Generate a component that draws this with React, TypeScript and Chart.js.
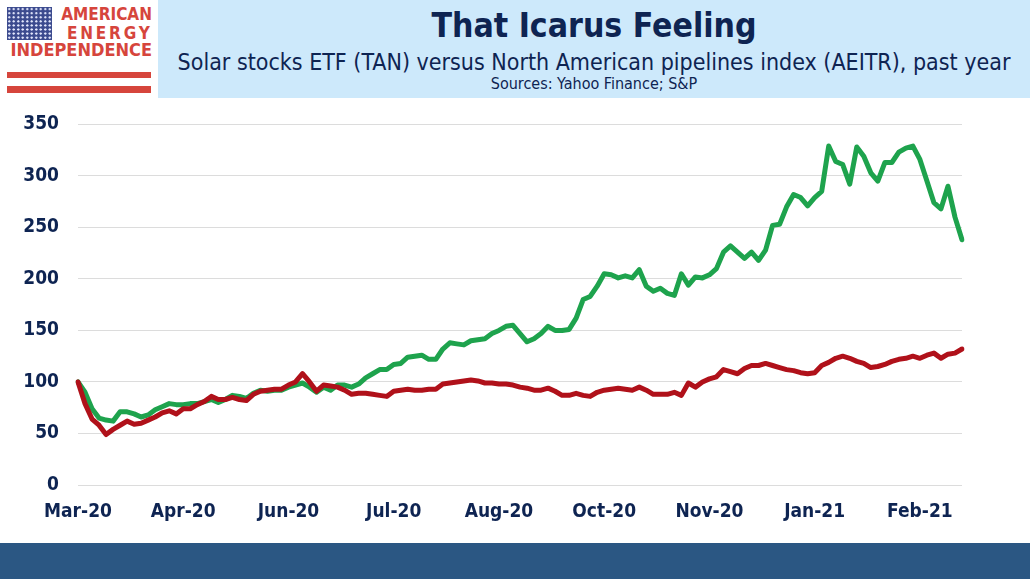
import React, { useEffect, useRef } from "react";
import { Chart, registerables } from "chart.js";

Chart.register(...registerables);

// Solar stocks ETF (TAN), indexed to 100
const TAN = [
  100, 90, 74, 65, 63, 62, 71, 71, 69, 66, 68, 73, 76, 79, 78, 78, 79, 79, 81, 83,
  80, 83, 87, 86, 84, 89, 92, 91, 92, 92, 95, 97, 99, 95, 90, 95, 92, 97, 97, 95,
  98, 104, 108, 112, 112, 117, 118, 124, 125, 126, 122, 122, 132, 138, 137, 136, 140, 141, 142, 147,
  150, 154, 155, 147, 139, 142, 147, 154, 150, 150, 151, 162, 180, 183, 193, 205, 204, 201, 203, 201,
  209, 193, 188, 191, 186, 184, 205, 194, 202, 201, 204, 210, 226, 232, 226, 220, 226, 218, 228, 252,
  253, 270, 282, 279, 271, 279, 285, 329, 314, 311, 292, 328, 319, 303, 295, 313, 313, 323, 327, 329,
  316, 295, 274, 268, 290, 260, 238,
];

// North American pipelines index (AEITR), indexed to 100
const AEITR = [
  100, 79, 64, 58, 49, 54, 58, 62, 59, 60, 63, 66, 70, 72, 69, 74, 74, 78, 81, 86,
  83, 83, 85, 83, 82, 88, 91, 92, 93, 93, 97, 100, 108, 100, 91, 97, 96, 95, 92, 88,
  89, 89, 88, 87, 86, 91, 92, 93, 92, 92, 93, 93, 98, 99, 100, 101, 102, 101, 99, 99,
  98, 98, 97, 95, 94, 92, 92, 94, 91, 87, 87, 89, 87, 86, 90, 92, 93, 94, 93, 92,
  95, 92, 88, 88, 88, 90, 87, 99, 95, 100, 103, 105, 112, 110, 108, 113, 116, 116, 118, 116,
  114, 112, 111, 109, 108, 109, 116, 119, 123, 125, 123, 120, 118, 114, 115, 117, 120, 122, 123, 125,
  123, 126, 128, 123, 127, 128, 132,
];

const MONTH_TICKS = ["Mar-20", "Apr-20", "Jun-20", "Jul-20", "Aug-20", "Oct-20", "Nov-20", "Jan-21", "Feb-21"];
const TICK_EVERY = 15;

const Y_MIN = 0;
const Y_MAX = 350;
const Y_STEP = 50;

const NAVY = "#0e2452";
const FONT = "'DejaVu Sans Condensed', 'DejaVu Sans', sans-serif";

function Logo() {
  const red = "#d6453c";
  return (
    <div style={{ position: "absolute", left: 0, top: 0, width: 158, height: 100, background: "#fff" }}>
      <div
        style={{
          position: "absolute",
          left: 7,
          top: 7,
          width: 45,
          height: 33,
          backgroundColor: "#3b4a8e",
          backgroundImage: "radial-gradient(circle, #e8ecff 0.9px, transparent 1.3px)",
          backgroundSize: "4.5px 4.1px",
        }}
      />
      <div
        style={{
          position: "absolute",
          left: 60,
          top: 4,
          width: 92,
          textAlign: "right",
          color: red,
          fontFamily: FONT,
          fontWeight: "bold",
          fontSize: 17,
          lineHeight: "21px",
        }}
      >
        AMERICAN
      </div>
      <div
        style={{
          position: "absolute",
          left: 67,
          top: 23,
          whiteSpace: "nowrap",
          color: red,
          fontFamily: FONT,
          fontWeight: "bold",
          fontSize: 17,
          lineHeight: "21px",
          letterSpacing: 2.8,
        }}
      >
        ENERGY
      </div>
      <div
        style={{
          position: "absolute",
          left: 4,
          top: 39,
          width: 148,
          textAlign: "right",
          color: red,
          fontFamily: FONT,
          fontWeight: "bold",
          fontSize: 18,
          lineHeight: "22px",
        }}
      >
        INDEPENDENCE
      </div>
      <div style={{ position: "absolute", left: 7, top: 72, width: 144, height: 6, background: red }} />
      <div style={{ position: "absolute", left: 7, top: 86, width: 144, height: 7, background: red }} />
    </div>
  );
}

function Header() {
  return (
    <div
      style={{
        position: "absolute",
        left: 158,
        top: 0,
        width: 872,
        height: 98,
        background: "#cde9fb",
        color: NAVY,
        fontFamily: FONT,
        textAlign: "center",
      }}
    >
      <div style={{ position: "absolute", left: 0, right: 0, top: 6, fontSize: 33.5, fontWeight: "bold", lineHeight: "40px" }}>
        That Icarus Feeling
      </div>
      <div style={{ position: "absolute", left: 0, right: 0, top: 48, fontSize: 23, lineHeight: "28px" }}>
        Solar stocks ETF (TAN) versus North American pipelines index (AEITR), past year
      </div>
      <div style={{ position: "absolute", left: 0, right: 0, top: 75, fontSize: 16, lineHeight: "18px" }}>
        Sources: Yahoo Finance; S&amp;P
      </div>
    </div>
  );
}

export default function App() {
  const canvasRef = useRef<HTMLCanvasElement | null>(null);

  useEffect(() => {
    if (!canvasRef.current) return;
    const labels = TAN.map((_, i) => (i % TICK_EVERY === 0 ? MONTH_TICKS[i / TICK_EVERY] ?? "" : ""));
    const chart = new Chart(canvasRef.current, {
      type: "line",
      data: {
        labels,
        datasets: [
          {
            label: "TAN",
            data: TAN,
            borderColor: "#1ea34d",
            borderWidth: 5,
            pointRadius: 0,
            tension: 0,
            borderJoinStyle: "round",
            borderCapStyle: "round",
            order: 1,
          },
          {
            label: "AEITR",
            data: AEITR,
            borderColor: "#b0111a",
            borderWidth: 5,
            pointRadius: 0,
            tension: 0,
            borderJoinStyle: "round",
            borderCapStyle: "round",
            order: 0,
          },
        ],
      },
      options: {
        animation: false,
        responsive: false,
        devicePixelRatio: 1,
        layout: { padding: { top: 0, right: 68, bottom: 0, left: 0 } },
        plugins: { legend: { display: false }, tooltip: { enabled: false }, title: { display: false } },
        scales: {
          x: {
            type: "category",
            offset: false,
            grid: { display: false, drawTicks: false },
            border: { display: false },
            ticks: {
              autoSkip: false,
              maxRotation: 0,
              minRotation: 0,
              padding: 16,
              color: NAVY,
              font: { family: FONT, size: 19, weight: "bold" },
              callback: (_v: any, i: number) => (i % TICK_EVERY === 0 ? labels[i] : null),
            },
            afterFit: (s: any) => {
              s.height = 55;
            },
          },
          y: {
            min: Y_MIN,
            max: Y_MAX,
            grid: { color: "#dcdcdc", lineWidth: 1, drawTicks: false },
            border: { display: false },
            ticks: {
              stepSize: Y_STEP,
              padding: 19,
              color: NAVY,
              font: { family: FONT, size: 19, weight: "bold" },
            },
            afterFit: (s: any) => {
              s.width = 78;
            },
          },
        },
      },
    });
    return () => chart.destroy();
  }, []);

  return (
    <div
      style={{
        position: "absolute",
        left: 0,
        top: 0,
        width: 1030,
        height: 579,
        background: "#fff",
        overflow: "hidden",
      }}
    >
      <Logo />
      <Header />
      <canvas
        ref={canvasRef}
        width={1030}
        height={446}
        style={{ position: "absolute", left: 0, top: 94, width: 1030, height: 446 }}
      />
      <div style={{ position: "absolute", left: 0, top: 543, width: 1030, height: 36, background: "#2b5783" }} />
    </div>
  );
}
